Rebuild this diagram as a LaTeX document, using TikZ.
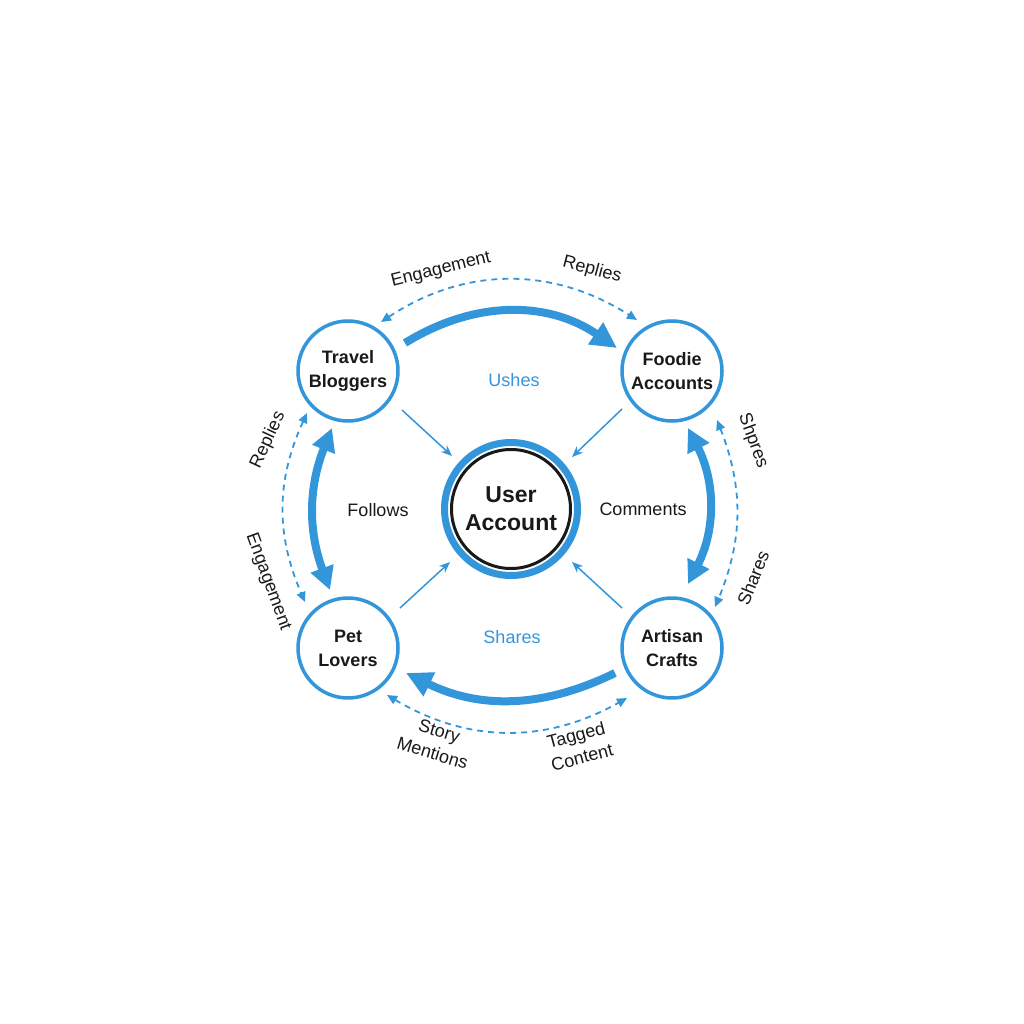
\documentclass[tikz,border=0pt]{standalone}
\usepackage{fontspec}
\setmainfont{Liberation Sans}
\usetikzlibrary{arrows.meta,calc}
\definecolor{blu}{RGB}{52,150,218}
\definecolor{ink}{RGB}{25,25,25}
\begin{document}
\begin{tikzpicture}[x=1pt,y=1pt,
  group/.style={circle,draw=blu,line width=3.5pt,minimum size=100pt,inner sep=0pt,align=center,font=\fontsize{18}{24}\selectfont\bfseries,text=ink},
  hub/.style={circle,draw=blu,line width=7pt,minimum size=133pt,inner sep=0pt,align=center,font=\fontsize{23}{28}\selectfont\bfseries,text=ink},
  bigone/.style={draw=blu,line width=8pt,-{Triangle[length=26pt,width=25pt]}},
  bigtwo/.style={draw=blu,line width=8pt,{Triangle[length=23pt,width=23pt]}-{Triangle[length=23pt,width=23pt]}},
  dashlink/.style={draw=blu,line width=1.8pt,dash pattern=on 6pt off 5pt,{Triangle[length=10pt,width=9pt]}-{Triangle[length=10pt,width=9pt]}},
  feed/.style={draw=blu,line width=1.5pt,-{Stealth[length=11pt,width=9pt]}},
  lab/.style={font=\fontsize{18}{22}\selectfont,text=ink,align=center},
  bluelab/.style={font=\fontsize{18}{22}\selectfont,text=blu}
]
\useasboundingbox[fill=white] (0,0) rectangle (1024,-1024);

\node[group] (tb) at (348,-371) {Travel\\Bloggers};
\node[group] (fa) at (672,-371) {Foodie\\Accounts};
\node[group] (pl) at (348,-648) {Pet\\Lovers};
\node[group] (ac) at (672,-648) {Artisan\\Crafts};
\node[hub] (ua) at (511,-509) {User\\Account};
\draw[ink,line width=3pt] (ua) circle (59.5);

% thick arrows
\draw[bigone] ($(tb)+(57,28)$) to[bend left=33] ($(fa)+(-55,23)$);
\draw[bigtwo] ($(fa)+(16,-57)$) to[bend left=27] ($(ac)+(16,64)$);
\draw[bigtwo] ($(tb)+(-16,-57)$) to[bend right=21] ($(pl)+(-18,58)$);
\draw[bigone] ($(ac)+(-57,-25)$) to[bend left=26] ($(pl)+(58,-25)$);

% dashed arcs
\draw[dashlink] ($(tb)+(33,49)$) to[bend left=33] ($(fa)+(-35,51)$);
\draw[dashlink] ($(tb)+(-41,-42)$) to[bend right=24] ($(pl)+(-43,46)$);
\draw[dashlink] ($(fa)+(45,-49)$) to[bend left=22] ($(ac)+(43,41)$);
\draw[dashlink] ($(pl)+(39,-47)$) to[bend right=30] ($(ac)+(-45,-50)$);

% feeds into the hub
\draw[feed] ($(tb)+(54,-39)$) -- ($(ua)+(-59,53)$);
\draw[feed] ($(fa)+(-50,-38)$) -- ($(ua)+(61,52)$);
\draw[feed] ($(pl)+(52,40)$) -- ($(ua)+(-61,-53)$);
\draw[feed] ($(ac)+(-50,40)$) -- ($(ua)+(61,-53)$);

% labels
\node[bluelab] (l1) at (514,-380) {Ushes};
\node[bluelab] (l2) at (512,-637) {Shares};
\node[lab] (l3) at (378,-510) {Follows};
\node[lab] (l4) at (643,-509) {Comments};
\node[lab,rotate=14] (l5) at (441,-270) {Engagement};
\node[lab,rotate=-15] (l6) at (592,-270) {Replies};
\node[lab,rotate=65] (l7) at (268,-440) {Replies};
\node[lab,rotate=-70] (l8) at (268,-582) {Engagement};
\node[lab,rotate=-70] (l9) at (753,-441) {Shpres};
\node[lab,rotate=68] (l10) at (753,-578) {Shares};
\node[lab,rotate=-17,font=\fontsize{18}{23}\selectfont] (l11) at (436,-742) {Story\\Mentions};
\node[lab,rotate=15,font=\fontsize{18}{23}\selectfont] (l12) at (579,-746) {Tagged\\Content};
\end{tikzpicture}
\end{document}
